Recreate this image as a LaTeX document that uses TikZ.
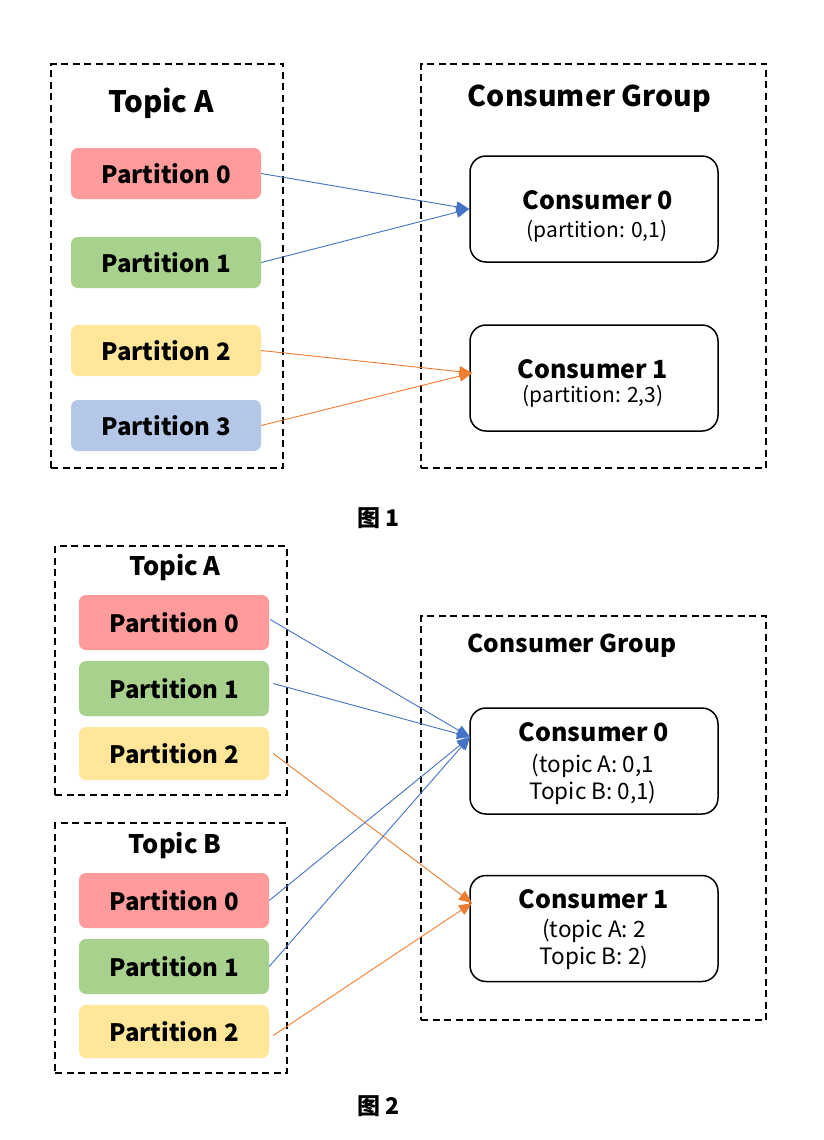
\documentclass[tikz,border=0pt]{standalone}
\usepackage{fontspec}
\setmainfont{Noto Sans CJK SC}
\usetikzlibrary{arrows.meta}
\definecolor{pred}{HTML}{FF9B9B}
\definecolor{pgreen}{HTML}{A9D18E}
\definecolor{pyellow}{HTML}{FFE699}
\definecolor{pblue}{HTML}{B4C7E7}
\definecolor{ablue}{HTML}{4472C4}
\definecolor{aorange}{HTML}{ED7D31}
\tikzset{
  grp/.style={draw, line width=1.6pt, dash pattern=on 7pt off 4.5pt},
  part/.style={rounded corners=7pt, minimum width=190pt, minimum height=51pt, inner sep=0pt, font=\fontsize{24}{28}\selectfont\bfseries},
  cons/.style={draw, line width=1.5pt, rounded corners=16pt, minimum width=248pt, minimum height=106pt},
  title/.style={font=\fontsize{29.5}{34}\selectfont\bfseries},
  gtitle/.style={font=\fontsize{28.5}{34}\selectfont\bfseries},
  stitle/.style={font=\fontsize{25.5}{30}\selectfont\bfseries},
  sgtitle/.style={font=\fontsize{24.5}{30}\selectfont\bfseries},
  ctitle/.style={font=\fontsize{25}{30}\selectfont\bfseries},
  csub/.style={font=\fontsize{21}{25}\selectfont, align=center},
  csubb/.style={font=\fontsize{22.5}{27}\selectfont, align=center},
  figcap/.style={font=\fontsize{23}{27}\selectfont\bfseries},
  bl/.style={ablue, line width=0.9pt, -{Triangle[length=13pt,width=11pt]}},
  og/.style={aorange, line width=0.9pt, -{Triangle[length=13pt,width=11pt]}},
}
\begin{document}
\begin{tikzpicture}[x=1pt,y=-1pt]
\useasboundingbox[fill=white] (0,0) rectangle (824,1140);
% ---------- Figure 1 ----------
\node[grp, minimum width=232pt, minimum height=404pt, inner sep=0pt] (ta1) at (167,266) {};
\node[title] (ta1t) at (161,103) {Topic A};
\node[part, fill=pred] (p10) at (166,173.5) {Partition 0};
\node[part, fill=pgreen] (p11) at (166,262.5) {Partition 1};
\node[part, fill=pyellow] (p12) at (166,350.5) {Partition 2};
\node[part, fill=pblue] (p13) at (166,425.5) {Partition 3};
\node[grp, minimum width=345pt, minimum height=404pt, inner sep=0pt] (cg1) at (593.5,266) {};
\node[gtitle] (cg1t) at (589.5,99) {Consumer Group};
\node[cons] (c10) at (594,209) {};
\node[ctitle] (c10a) at (598,200) {Consumer 0};
\node[csub] (c10b) at (597,231) {(partition: 0,1)};
\node[cons] (c11) at (594,378) {};
\node[ctitle] (c11a) at (593,369) {Consumer 1};
\node[csub] (c11b) at (593,396) {(partition: 2,3)};
\draw[bl] (p10.east) -- (c10.west);
\draw[bl] (p11.east) -- (c10.west);
\draw[og] (p12.east) -- ([xshift=3pt,yshift=5pt]c11.west);
\draw[og] (p13.east) -- ([xshift=3pt,yshift=5pt]c11.west);
\node[figcap] (f1) at (378.5,518) {图 1};
% ---------- Figure 2 ----------
\node[grp, minimum width=232pt, minimum height=249pt, inner sep=0pt] (ta2) at (171,670.5) {};
\node[stitle] (ta2t) at (175,568) {Topic A};
\node[part, fill=pred, minimum height=55pt] (a0) at (174,622.5) {Partition 0};
\node[part, fill=pgreen, minimum height=55pt] (a1) at (174,688.5) {Partition 1};
\node[part, fill=pyellow, minimum height=53pt] (a2) at (174,753.5) {Partition 2};
\node[grp, minimum width=232pt, minimum height=250pt, inner sep=0pt] (tb2) at (171,948) {};
\node[stitle] (tb2t) at (175,846) {Topic B};
\node[part, fill=pred, minimum height=55pt] (b0) at (174,900.5) {Partition 0};
\node[part, fill=pgreen, minimum height=55pt] (b1) at (174,966.5) {Partition 1};
\node[part, fill=pyellow, minimum height=53pt] (b2) at (174,1031.5) {Partition 2};
\node[grp, minimum width=345pt, minimum height=404pt, inner sep=0pt] (cg2) at (593.5,818) {};
\node[sgtitle] (cg2t) at (572,646) {Consumer Group};
\node[cons] (c20) at (594,761) {};
\node[ctitle] (c20a) at (594,732) {Consumer 0};
\node[csubb] (c20b) at (593,779) {(topic A: 0,1\\Topic B: 0,1)};
\node[cons] (c21) at (594,928.5) {};
\node[ctitle] (c21a) at (594,899) {Consumer 1};
\node[csubb] (c21b) at (594,944) {(topic A: 2\\Topic B: 2)};
\coordinate (t0) at (470,737);
\coordinate (t1) at (472,903);
\draw[bl] ([xshift=1pt,yshift=3pt]a0.east) -- (t0);
\draw[bl] ([xshift=4pt,yshift=5pt]a1.east) -- (t0);
\draw[og] ([xshift=4pt]a2.east) -- (t1);
\draw[bl] (b0.east) -- (t0);
\draw[bl] (b1.east) -- (t0);
\draw[og] ([xshift=4pt,yshift=-4pt]b2.east) -- (t1);
\node[figcap] (f2) at (378.5,1106) {图 2};
\end{tikzpicture}
\end{document}
